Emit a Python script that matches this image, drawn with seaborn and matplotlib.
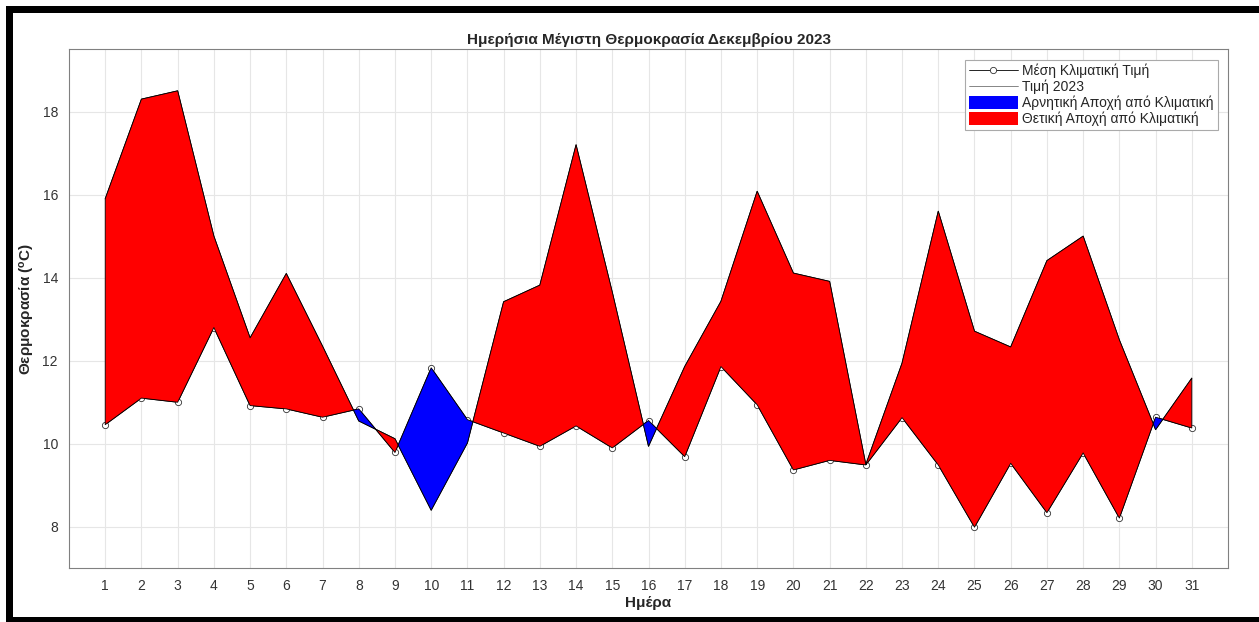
import numpy as np
import pandas as pd
import matplotlib
matplotlib.use("Agg")
import matplotlib.pyplot as plt
import seaborn as sns
from matplotlib.lines import Line2D
from matplotlib.patches import Patch, Rectangle

# Daily data, December 2023
days = list(range(1, 32))
clim_mean = [10.46, 11.10, 11.00, 12.80, 10.92, 10.84, 10.64, 10.84, 9.79, 11.83,
             10.58, 10.26, 9.94, 10.43, 9.90, 10.56, 9.69, 11.86, 10.94, 9.37,
             9.60, 9.49, 10.63, 9.49, 7.99, 9.53, 8.34, 9.78, 8.21, 10.64, 10.38]
temp_2023 = [15.90, 18.30, 18.50, 15.00, 12.55, 14.10, 12.35, 10.55, 10.12, 8.40,
             10.02, 13.42, 13.82, 17.20, 13.65, 9.94, 11.86, 13.43, 16.08, 14.11,
             13.91, 9.50, 11.94, 15.60, 12.71, 12.33, 14.41, 15.00, 12.50, 10.34, 11.58]

title = "Ημερήσια Μέγιστη Θερμοκρασία Δεκεμβρίου 2023"
xlabel = "Ημέρα"
ylabel = "Θερμοκρασία ($^{o}$C)"
legend_labels = ["Μέση Κλιματική Τιμή", "Τιμή 2023",
                 "Αρνητική Αποχή από Κλιματική", "Θετική Αποχή από Κλιματική"]

df = pd.DataFrame({"day": days, "clim": clim_mean, "t2023": temp_2023})

sns.set_style("whitegrid")
plt.rcParams["font.family"] = ["Liberation Sans", "DejaVu Sans"]
plt.rcParams["mathtext.default"] = "regular"

fig = plt.figure(figsize=(12.59, 6.22), dpi=100)
ax = fig.add_axes([0.0548, 0.0863, 0.9206, 0.8344])

# lines first, fills drawn over them (as in the original)
sns.lineplot(data=df, x="day", y="clim", ax=ax, color="black", linewidth=0.7,
             marker="o", markersize=4.5, markerfacecolor="white",
             markeredgecolor="#333333", markeredgewidth=0.6, zorder=2)
sns.lineplot(data=df, x="day", y="t2023", ax=ax, color="black", linewidth=0.7,
             zorder=2)

x = df["day"].values
lo = df["clim"].values
hi = df["t2023"].values
ax.fill_between(x, lo, hi, where=hi >= lo, interpolate=True, facecolor="red",
                edgecolor="black", linewidth=0.6, zorder=3)
ax.fill_between(x, lo, hi, where=hi < lo, interpolate=True, facecolor="blue",
                edgecolor="black", linewidth=0.6, zorder=3)

ax.set_xlim(0, 32)
ax.set_ylim(7, 19.5)
ax.set_xticks(days)
ax.set_yticks(np.arange(8, 19, 2))
ax.grid(True, color="#e6e6e6", linewidth=0.8)
ax.tick_params(direction="in", length=4, labelsize=10, colors="#333333",
               pad=8)
for s in ax.spines.values():
    s.set_color("#808080")
    s.set_linewidth(0.8)

ax.set_title(title, fontsize=11, fontweight="bold", pad=4)
ax.set_xlabel(xlabel, fontsize=11, fontweight="bold", labelpad=2)
ax.set_ylabel(ylabel, fontsize=11, fontweight="bold", labelpad=4)

handles = [
    Line2D([], [], color="black", linewidth=0.6, marker="o", markersize=4.5,
           markerfacecolor="white", markeredgecolor="#333333", markeredgewidth=0.6),
    Line2D([], [], color="#555555", linewidth=0.5),
    Patch(facecolor="blue", edgecolor="none"),
    Patch(facecolor="red", edgecolor="none"),
]
leg = ax.legend(handles, legend_labels, loc="upper right",
                bbox_to_anchor=(0.991, 0.98), borderaxespad=0, fontsize=10,
                fancybox=False, framealpha=1, edgecolor="#aaaaaa",
                handlelength=3.5, handleheight=1.1, labelspacing=0.1,
                borderpad=0.3, handletextpad=0.3)
leg.get_frame().set_linewidth(0.8)

# black screenshot frame (top, left, bottom)
W, H = 1259, 622
for (px, py, pw, ph) in [(6, 622 - 13, 1253, 7), (6, 0, 7, 616), (6, 0, 1253, 5)]:
    fig.patches.append(Rectangle((px / W, py / H), pw / W, ph / H,
                                 transform=fig.transFigure, facecolor="black",
                                 edgecolor="none", zorder=10))

fig.savefig("out.png", dpi=100)
